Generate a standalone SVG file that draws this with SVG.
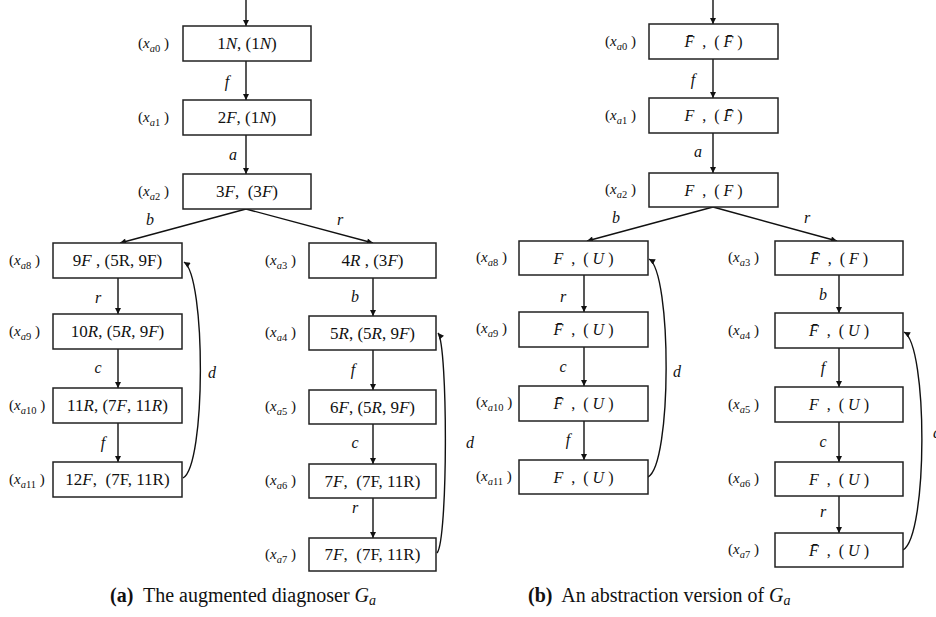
<svg xmlns="http://www.w3.org/2000/svg" width="936" height="617" viewBox="0 0 936 617" xml:space="preserve">
<defs>
<marker id="ah" viewBox="0 0 10 10" refX="10" refY="5" markerWidth="7" markerHeight="6" markerUnits="userSpaceOnUse" orient="auto">
<path d="M0,0 L10,5 L0,10 z" fill="#111"/>
</marker>
<style>
.box{fill:#fff;stroke:#222;stroke-width:1.5}
.e{stroke:#111;stroke-width:1.4;fill:none;marker-end:url(#ah)}
text{font-family:"Liberation Serif","DejaVu Serif",serif;fill:#111;white-space:pre}
.t{font-size:17px;text-anchor:middle}
.tb{font-size:16px;text-anchor:middle}
.i{font-style:italic}
.lbl{font-size:15px}
.s{font-size:10.5px}
.el{font-style:italic;font-size:16px;text-anchor:middle}
.cap{font-size:20px}
.b{font-weight:bold}
</style>
</defs>
<rect width="936" height="617" fill="#fff"/>

<g id="connectors">
<line class="e" x1="246" y1="0" x2="246" y2="26"/>
<line class="e" x1="246" y1="61" x2="246" y2="100"/>
<line class="e" x1="246" y1="135" x2="246" y2="174"/>
<line class="e" x1="246" y1="209" x2="120" y2="243"/>
<line class="e" x1="246" y1="209" x2="373" y2="243"/>
<line class="e" x1="118" y1="278" x2="118" y2="314"/>
<line class="e" x1="118" y1="349" x2="118" y2="388"/>
<line class="e" x1="118" y1="423" x2="118" y2="462"/>
<line class="e" x1="373" y1="278" x2="373" y2="316"/>
<line class="e" x1="373" y1="350" x2="373" y2="390"/>
<line class="e" x1="373" y1="424" x2="373" y2="464"/>
<line class="e" x1="373" y1="498" x2="373" y2="538"/>
<path class="e" d="M183,478 C206,466 206,276 184,262"/>
<path class="e" d="M437,553 C448,541 448,345 438,333"/>

<line class="e" x1="713" y1="0" x2="713" y2="24"/>
<line class="e" x1="713" y1="59" x2="713" y2="98"/>
<line class="e" x1="713" y1="133" x2="713" y2="173"/>
<line class="e" x1="713" y1="207" x2="587" y2="241"/>
<line class="e" x1="713" y1="207" x2="837" y2="241"/>
<line class="e" x1="584" y1="275" x2="584" y2="312"/>
<line class="e" x1="584" y1="347" x2="584" y2="386"/>
<line class="e" x1="584" y1="421" x2="584" y2="460"/>
<line class="e" x1="839" y1="275" x2="839" y2="313"/>
<line class="e" x1="839" y1="348" x2="839" y2="387"/>
<line class="e" x1="839" y1="422" x2="839" y2="462"/>
<line class="e" x1="839" y1="496" x2="839" y2="533"/>
<path class="e" d="M648,477 C672,465 672,272 649,259"/>
<path class="e" d="M903,550 C928,536 928,345 904,332"/>

<text class="el" x="227" y="87">f</text>
<text class="el" x="233" y="160">a</text>
<text class="el" x="150" y="225">b</text>
<text class="el" x="340" y="225">r</text>
<text class="el" x="98" y="303">r</text>
<text class="el" x="98" y="373">c</text>
<text class="el" x="103" y="448">f</text>
<text class="el" x="212" y="378">d</text>
<text class="el" x="355" y="302">b</text>
<text class="el" x="353" y="375">f</text>
<text class="el" x="355" y="448">c</text>
<text class="el" x="355" y="513">r</text>
<text class="el" x="470" y="448">d</text>

<text class="el" x="693" y="85">f</text>
<text class="el" x="698" y="157">a</text>
<text class="el" x="616" y="223">b</text>
<text class="el" x="807" y="223">r</text>
<text class="el" x="563" y="302">r</text>
<text class="el" x="563" y="372">c</text>
<text class="el" x="568" y="445">f</text>
<text class="el" x="677" y="377">d</text>
<text class="el" x="823" y="300">b</text>
<text class="el" x="823" y="373">f</text>
<text class="el" x="823" y="447">c</text>
<text class="el" x="823" y="517">r</text>
<text class="el" x="937" y="438">d</text>
</g>

<!-- Panel (a) -->
<g id="a_x0"><rect class="box" x="183" y="26" width="128" height="35"/>
<text class="t" x="247" y="49">1<tspan class="i">N</tspan>, (1<tspan class="i">N</tspan>)</text>
<text class="lbl" x="138" y="48">(<tspan class="i">x</tspan><tspan class="s i" dy="4">a</tspan><tspan class="s">0</tspan><tspan dy="-4"> )</tspan></text></g>
<g id="a_x1"><rect class="box" x="183" y="100" width="128" height="35"/>
<text class="t" x="247" y="123">2<tspan class="i">F</tspan>, (1<tspan class="i">N</tspan>)</text>
<text class="lbl" x="138" y="122">(<tspan class="i">x</tspan><tspan class="s i" dy="4">a</tspan><tspan class="s">1</tspan><tspan dy="-4"> )</tspan></text></g>
<g id="a_x2"><rect class="box" x="183" y="174" width="128" height="35"/>
<text class="t" x="247" y="197">3<tspan class="i">F</tspan>,  (3<tspan class="i">F</tspan>)</text>
<text class="lbl" x="138" y="196">(<tspan class="i">x</tspan><tspan class="s i" dy="4">a</tspan><tspan class="s">2</tspan><tspan dy="-4"> )</tspan></text></g>
<g id="a_x8"><rect class="box" x="53" y="243" width="129" height="35"/>
<text class="t" x="117.5" y="266">9<tspan class="i">F</tspan> , (5R, 9F)</text>
<text class="lbl" x="9" y="265">(<tspan class="i">x</tspan><tspan class="s i" dy="4">a</tspan><tspan class="s">8</tspan><tspan dy="-4"> )</tspan></text></g>
<g id="a_x9"><rect class="box" x="53" y="314" width="129" height="35"/>
<text class="t" x="117.5" y="337">10<tspan class="i">R</tspan>, (5<tspan class="i">R</tspan>, 9<tspan class="i">F</tspan>)</text>
<text class="lbl" x="9" y="336">(<tspan class="i">x</tspan><tspan class="s i" dy="4">a</tspan><tspan class="s">9</tspan><tspan dy="-4"> )</tspan></text></g>
<g id="a_x10"><rect class="box" x="53" y="388" width="129" height="35"/>
<text class="t" x="117.5" y="411">11<tspan class="i">R</tspan>, (7<tspan class="i">F</tspan>, 11<tspan class="i">R</tspan>)</text>
<text class="lbl" x="9" y="410">(<tspan class="i">x</tspan><tspan class="s i" dy="4">a</tspan><tspan class="s">10</tspan><tspan dy="-4"> )</tspan></text></g>
<g id="a_x11"><rect class="box" x="53" y="462" width="129" height="35"/>
<text class="t" x="117.5" y="485">12<tspan class="i">F</tspan>,  (7F, 11R)</text>
<text class="lbl" x="9" y="484">(<tspan class="i">x</tspan><tspan class="s i" dy="4">a</tspan><tspan class="s">11</tspan><tspan dy="-4"> )</tspan></text></g>
<g id="a_x3"><rect class="box" x="309" y="243" width="127" height="35"/>
<text class="t" x="372.5" y="266">4<tspan class="i">R</tspan> , (3<tspan class="i">F</tspan>)</text>
<text class="lbl" x="265" y="265">(<tspan class="i">x</tspan><tspan class="s i" dy="4">a</tspan><tspan class="s">3</tspan><tspan dy="-4"> )</tspan></text></g>
<g id="a_x4"><rect class="box" x="309" y="316" width="127" height="34"/>
<text class="t" x="372.5" y="339">5<tspan class="i">R</tspan>, (5<tspan class="i">R</tspan>, 9<tspan class="i">F</tspan>)</text>
<text class="lbl" x="265" y="337">(<tspan class="i">x</tspan><tspan class="s i" dy="4">a</tspan><tspan class="s">4</tspan><tspan dy="-4"> )</tspan></text></g>
<g id="a_x5"><rect class="box" x="309" y="390" width="127" height="34"/>
<text class="t" x="372.5" y="413">6<tspan class="i">F</tspan>, (5<tspan class="i">R</tspan>, 9<tspan class="i">F</tspan>)</text>
<text class="lbl" x="265" y="411">(<tspan class="i">x</tspan><tspan class="s i" dy="4">a</tspan><tspan class="s">5</tspan><tspan dy="-4"> )</tspan></text></g>
<g id="a_x6"><rect class="box" x="309" y="464" width="127" height="34"/>
<text class="t" x="372.5" y="487">7<tspan class="i">F</tspan>,  (7F, 11R)</text>
<text class="lbl" x="265" y="485">(<tspan class="i">x</tspan><tspan class="s i" dy="4">a</tspan><tspan class="s">6</tspan><tspan dy="-4"> )</tspan></text></g>
<g id="a_x7"><rect class="box" x="309" y="538" width="127" height="33"/>
<text class="t" x="372.5" y="560">7<tspan class="i">F</tspan>,  (7F, 11R)</text>
<text class="lbl" x="265" y="559">(<tspan class="i">x</tspan><tspan class="s i" dy="4">a</tspan><tspan class="s">7</tspan><tspan dy="-4"> )</tspan></text></g>

<!-- Panel (b) -->
<g id="b_x0"><rect class="box" x="649" y="24" width="129" height="35"/>
<text class="tb" x="713.5" y="47"><tspan class="i">F̄</tspan>  ,  ( <tspan class="i">F̄</tspan> )</text>
<text class="lbl" x="605" y="46">(<tspan class="i">x</tspan><tspan class="s i" dy="4">a</tspan><tspan class="s">0</tspan><tspan dy="-4"> )</tspan></text></g>
<g id="b_x1"><rect class="box" x="649" y="98" width="129" height="35"/>
<text class="tb" x="713.5" y="121"><tspan class="i">F</tspan>  ,  ( <tspan class="i">F̄</tspan> )</text>
<text class="lbl" x="605" y="120">(<tspan class="i">x</tspan><tspan class="s i" dy="4">a</tspan><tspan class="s">1</tspan><tspan dy="-4"> )</tspan></text></g>
<g id="b_x2"><rect class="box" x="649" y="173" width="129" height="34"/>
<text class="tb" x="713.5" y="196"><tspan class="i">F</tspan>  ,  ( <tspan class="i">F</tspan> )</text>
<text class="lbl" x="605" y="194">(<tspan class="i">x</tspan><tspan class="s i" dy="4">a</tspan><tspan class="s">2</tspan><tspan dy="-4"> )</tspan></text></g>
<g id="b_x8"><rect class="box" x="519" y="241" width="129" height="34"/>
<text class="tb" x="583.5" y="264"><tspan class="i">F</tspan>  ,  ( <tspan class="i">U</tspan> )</text>
<text class="lbl" x="476" y="262">(<tspan class="i">x</tspan><tspan class="s i" dy="4">a</tspan><tspan class="s">8</tspan><tspan dy="-4"> )</tspan></text></g>
<g id="b_x9"><rect class="box" x="519" y="312" width="129" height="35"/>
<text class="tb" x="583.5" y="335"><tspan class="i">F̄</tspan>  ,  ( <tspan class="i">U</tspan> )</text>
<text class="lbl" x="476" y="333">(<tspan class="i">x</tspan><tspan class="s i" dy="4">a</tspan><tspan class="s">9</tspan><tspan dy="-4"> )</tspan></text></g>
<g id="b_x10"><rect class="box" x="519" y="386" width="129" height="35"/>
<text class="tb" x="583.5" y="409"><tspan class="i">F̄</tspan>  ,  ( <tspan class="i">U</tspan> )</text>
<text class="lbl" x="476" y="407">(<tspan class="i">x</tspan><tspan class="s i" dy="4">a</tspan><tspan class="s">10</tspan><tspan dy="-4"> )</tspan></text></g>
<g id="b_x11"><rect class="box" x="519" y="460" width="129" height="34"/>
<text class="tb" x="583.5" y="483"><tspan class="i">F</tspan>  ,  ( <tspan class="i">U</tspan> )</text>
<text class="lbl" x="476" y="481">(<tspan class="i">x</tspan><tspan class="s i" dy="4">a</tspan><tspan class="s">11</tspan><tspan dy="-4"> )</tspan></text></g>
<g id="b_x3"><rect class="box" x="775" y="241" width="128" height="34"/>
<text class="tb" x="839" y="264"><tspan class="i">F̄</tspan>  ,  ( <tspan class="i">F</tspan> )</text>
<text class="lbl" x="728" y="262">(<tspan class="i">x</tspan><tspan class="s i" dy="4">a</tspan><tspan class="s">3</tspan><tspan dy="-4"> )</tspan></text></g>
<g id="b_x4"><rect class="box" x="775" y="313" width="128" height="35"/>
<text class="tb" x="839" y="336"><tspan class="i">F̄</tspan>  ,  ( <tspan class="i">U</tspan> )</text>
<text class="lbl" x="728" y="335">(<tspan class="i">x</tspan><tspan class="s i" dy="4">a</tspan><tspan class="s">4</tspan><tspan dy="-4"> )</tspan></text></g>
<g id="b_x5"><rect class="box" x="775" y="387" width="128" height="35"/>
<text class="tb" x="839" y="410"><tspan class="i">F</tspan>  ,  ( <tspan class="i">U</tspan> )</text>
<text class="lbl" x="728" y="409">(<tspan class="i">x</tspan><tspan class="s i" dy="4">a</tspan><tspan class="s">5</tspan><tspan dy="-4"> )</tspan></text></g>
<g id="b_x6"><rect class="box" x="775" y="462" width="128" height="34"/>
<text class="tb" x="839" y="485"><tspan class="i">F</tspan>  ,  ( <tspan class="i">U</tspan> )</text>
<text class="lbl" x="728" y="483">(<tspan class="i">x</tspan><tspan class="s i" dy="4">a</tspan><tspan class="s">6</tspan><tspan dy="-4"> )</tspan></text></g>
<g id="b_x7"><rect class="box" x="775" y="533" width="128" height="34"/>
<text class="tb" x="839" y="556"><tspan class="i">F̄</tspan>  ,  ( <tspan class="i">U</tspan> )</text>
<text class="lbl" x="728" y="554">(<tspan class="i">x</tspan><tspan class="s i" dy="4">a</tspan><tspan class="s">7</tspan><tspan dy="-4"> )</tspan></text></g>

<g id="captions">
<text class="cap" x="110" y="602"><tspan class="b">(a)</tspan>  The augmented diagnoser <tspan class="i">G</tspan><tspan class="i" font-size="14" dy="3">a</tspan></text>
<text class="cap" x="528" y="602"><tspan class="b">(b)</tspan>  An abstraction version of <tspan class="i">G</tspan><tspan class="i" font-size="14" dy="3">a</tspan></text>
</g>
</svg>
